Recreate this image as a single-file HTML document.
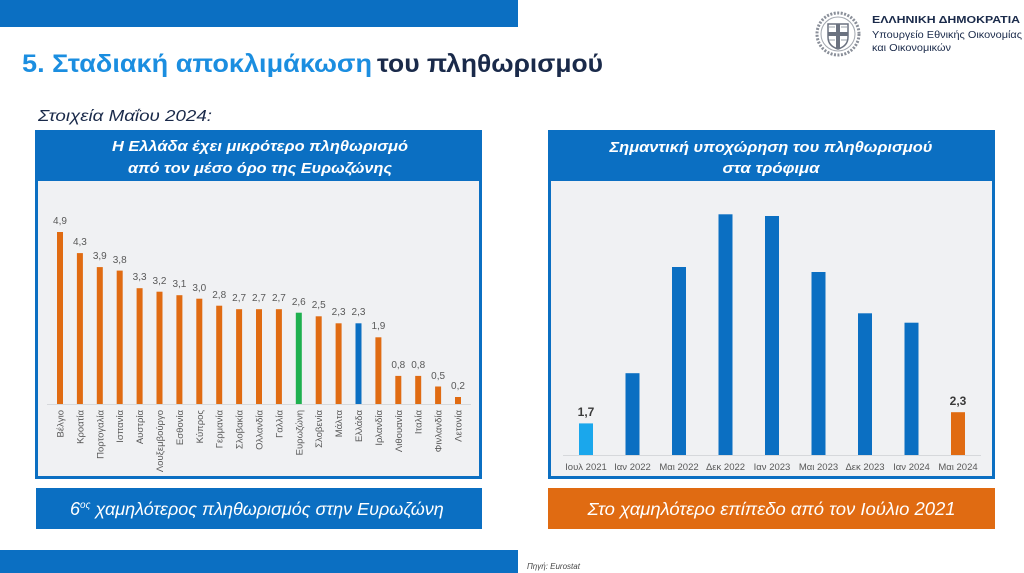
<!DOCTYPE html>
<html><head><meta charset="utf-8">
<style>
html,body{margin:0;padding:0;background:#fff;}
svg{display:block;}
text{font-family:"Liberation Sans","DejaVu Sans",sans-serif;}
</style></head>
<body>
<svg width="1024" height="573" viewBox="0 0 1024 573" xmlns="http://www.w3.org/2000/svg">
<rect x="0" y="0" width="1024" height="573" fill="#ffffff"/>
<!-- top bar -->
<rect x="0" y="0" width="518" height="27" fill="#0b6fc2"/>
<!-- bottom bar -->
<rect x="0" y="550" width="518" height="23" fill="#0b6fc2"/>
<text x="527" y="569" font-size="8" font-style="italic" fill="#444">Πηγή: Eurostat</text>

<!-- logo -->
<g>
<circle cx="838" cy="34" r="21" fill="none" stroke="#8a8f99" stroke-width="3" stroke-dasharray="2 1.5"/>
<circle cx="838" cy="34" r="17" fill="none" stroke="#a0a5ad" stroke-width="1"/>
<path d="M828 24 h20 v13 q0 9 -10 12 q-10 -3 -10 -12 z" fill="#fff" stroke="#6b7280" stroke-width="1.5"/>
<rect x="836" y="24" width="4" height="24" fill="#6b7280"/>
<rect x="828" y="32" width="20" height="4" fill="#6b7280"/>
<line x1="829" y1="27" x2="835" y2="27" stroke="#9aa0a8" stroke-width="1"/>
<line x1="841" y1="27" x2="847" y2="27" stroke="#9aa0a8" stroke-width="1"/>
<line x1="829" y1="40" x2="835" y2="40" stroke="#9aa0a8" stroke-width="1"/>
<line x1="841" y1="40" x2="847" y2="40" stroke="#9aa0a8" stroke-width="1"/>
</g>
<text x="872" y="23" font-size="10" font-weight="bold" fill="#1a2a4a" textLength="148" lengthAdjust="spacingAndGlyphs">ΕΛΛΗΝΙΚΗ ΔΗΜΟΚΡΑΤΙΑ</text>
<text x="872" y="38" font-size="10.5" fill="#1a2a4a" textLength="150" lengthAdjust="spacingAndGlyphs">Υπουργείο Εθνικής Οικονομίας</text>
<text x="872" y="51" font-size="10.5" fill="#1a2a4a" textLength="79" lengthAdjust="spacingAndGlyphs">και Οικονομικών</text>

<!-- title -->
<text x="22" y="72" font-size="25" font-weight="bold" fill="#1b8ee0" textLength="350" lengthAdjust="spacingAndGlyphs">5. Σταδιακή αποκλιμάκωση</text>
<text x="377" y="72" font-size="25" font-weight="bold" fill="#1a2a4a" textLength="226" lengthAdjust="spacingAndGlyphs">του πληθωρισμού</text>

<text x="38" y="121" font-size="16" font-style="italic" fill="#1a2a4a" textLength="174" lengthAdjust="spacingAndGlyphs">Στοιχεία Μαΐου 2024:</text>

<!-- LEFT PANEL -->
<rect x="35" y="130" width="447" height="349" fill="#0b6fc2"/>
<rect x="38" y="181" width="441" height="295" fill="#f0f1f3"/>
<text x="260" y="151" font-size="15" font-weight="bold" font-style="italic" fill="#fff" text-anchor="middle" textLength="296" lengthAdjust="spacingAndGlyphs">Η Ελλάδα έχει μικρότερο πληθωρισμό</text>
<text x="260" y="173" font-size="15" font-weight="bold" font-style="italic" fill="#fff" text-anchor="middle" textLength="264" lengthAdjust="spacingAndGlyphs">από τον μέσο όρο της Ευρωζώνης</text>
<line x1="47" y1="404.5" x2="471" y2="404.5" stroke="#d6d8db" stroke-width="1"/>

<g font-size="10" fill="#595959" text-anchor="middle">
<rect x="57" y="232" width="6" height="172" fill="#e06b12"/><text x="60" y="224">4,9</text>
<rect x="76.9" y="253.1" width="6" height="150.9" fill="#e06b12"/><text x="79.9" y="245">4,3</text>
<rect x="96.8" y="267.1" width="6" height="136.9" fill="#e06b12"/><text x="99.8" y="259">3,9</text>
<rect x="116.7" y="270.6" width="6" height="133.4" fill="#e06b12"/><text x="119.7" y="263">3,8</text>
<rect x="136.6" y="288.2" width="6" height="115.8" fill="#e06b12"/><text x="139.6" y="280">3,3</text>
<rect x="156.5" y="291.7" width="6" height="112.3" fill="#e06b12"/><text x="159.5" y="284">3,2</text>
<rect x="176.4" y="295.2" width="6" height="108.8" fill="#e06b12"/><text x="179.4" y="287">3,1</text>
<rect x="196.3" y="298.7" width="6" height="105.3" fill="#e06b12"/><text x="199.3" y="291">3,0</text>
<rect x="216.2" y="305.7" width="6" height="98.3" fill="#e06b12"/><text x="219.2" y="298">2,8</text>
<rect x="236.1" y="309.2" width="6" height="94.8" fill="#e06b12"/><text x="239.1" y="301">2,7</text>
<rect x="256" y="309.2" width="6" height="94.8" fill="#e06b12"/><text x="259" y="301">2,7</text>
<rect x="275.9" y="309.2" width="6" height="94.8" fill="#e06b12"/><text x="278.9" y="301">2,7</text>
<rect x="295.8" y="312.7" width="6" height="91.3" fill="#1fb04f"/><text x="298.8" y="305">2,6</text>
<rect x="315.7" y="316.3" width="6" height="87.7" fill="#e06b12"/><text x="318.7" y="308">2,5</text>
<rect x="335.6" y="323.3" width="6" height="80.7" fill="#e06b12"/><text x="338.6" y="315">2,3</text>
<rect x="355.5" y="323.3" width="6" height="80.7" fill="#0b6fc2"/><text x="358.5" y="315">2,3</text>
<rect x="375.4" y="337.3" width="6" height="66.7" fill="#e06b12"/><text x="378.4" y="329">1,9</text>
<rect x="395.3" y="375.9" width="6" height="28.1" fill="#e06b12"/><text x="398.3" y="368">0,8</text>
<rect x="415.2" y="375.9" width="6" height="28.1" fill="#e06b12"/><text x="418.2" y="368">0,8</text>
<rect x="435.1" y="386.5" width="6" height="17.5" fill="#e06b12"/><text x="438.1" y="379">0,5</text>
<rect x="455" y="397" width="6" height="7" fill="#e06b12"/><text x="458" y="389">0,2</text>
</g>
<g font-size="9.5" fill="#595959" text-anchor="end">
<text transform="translate(63.5,410) rotate(-90)">Βέλγιο</text>
<text transform="translate(83.4,410) rotate(-90)">Κροατία</text>
<text transform="translate(103.3,410) rotate(-90)">Πορτογαλία</text>
<text transform="translate(123.2,410) rotate(-90)">Ισπανία</text>
<text transform="translate(143.1,410) rotate(-90)">Αυστρία</text>
<text transform="translate(163,410) rotate(-90)">Λουξεμβούργο</text>
<text transform="translate(182.9,410) rotate(-90)">Εσθονία</text>
<text transform="translate(202.8,410) rotate(-90)">Κύπρος</text>
<text transform="translate(222.7,410) rotate(-90)">Γερμανία</text>
<text transform="translate(242.6,410) rotate(-90)">Σλοβακία</text>
<text transform="translate(262.5,410) rotate(-90)">Ολλανδία</text>
<text transform="translate(282.4,410) rotate(-90)">Γαλλία</text>
<text transform="translate(302.3,410) rotate(-90)">Ευρωζώνη</text>
<text transform="translate(322.2,410) rotate(-90)">Σλοβενία</text>
<text transform="translate(342.1,410) rotate(-90)">Μάλτα</text>
<text transform="translate(362,410) rotate(-90)">Ελλάδα</text>
<text transform="translate(381.9,410) rotate(-90)">Ιρλανδία</text>
<text transform="translate(401.8,410) rotate(-90)">Λιθουανία</text>
<text transform="translate(421.7,410) rotate(-90)">Ιταλία</text>
<text transform="translate(441.6,410) rotate(-90)">Φινλανδία</text>
<text transform="translate(461.5,410) rotate(-90)">Λετονία</text>
</g>

<!-- RIGHT PANEL -->
<rect x="548" y="130" width="447" height="349" fill="#0b6fc2"/>
<rect x="551" y="181" width="441" height="295" fill="#f0f1f3"/>
<text x="771" y="152" font-size="15" font-weight="bold" font-style="italic" fill="#fff" text-anchor="middle" textLength="323" lengthAdjust="spacingAndGlyphs">Σημαντική υποχώρηση του πληθωρισμού</text>
<text x="771" y="173" font-size="15" font-weight="bold" font-style="italic" fill="#fff" text-anchor="middle" textLength="97" lengthAdjust="spacingAndGlyphs">στα τρόφιμα</text>
<line x1="563" y1="455.5" x2="981" y2="455.5" stroke="#d6d8db" stroke-width="1"/>
<rect x="579" y="423.4" width="14" height="31.6" fill="#1aa7ec"/>
<rect x="625.5" y="373.2" width="14" height="81.8" fill="#0b6fc2"/>
<rect x="672" y="267" width="14" height="188" fill="#0b6fc2"/>
<rect x="718.5" y="214.3" width="14" height="240.7" fill="#0b6fc2"/>
<rect x="765" y="216" width="14" height="239" fill="#0b6fc2"/>
<rect x="811.5" y="272" width="14" height="183" fill="#0b6fc2"/>
<rect x="858" y="313.3" width="14" height="141.7" fill="#0b6fc2"/>
<rect x="904.5" y="322.7" width="14" height="132.3" fill="#0b6fc2"/>
<rect x="951" y="412.2" width="14" height="42.8" fill="#e06b12"/>
<text x="586" y="416" font-size="12" font-weight="bold" fill="#3a3a3a" text-anchor="middle">1,7</text>
<text x="958" y="405" font-size="12" font-weight="bold" fill="#3a3a3a" text-anchor="middle">2,3</text>
<g font-size="9.5" fill="#595959" text-anchor="middle">
<text x="586" y="470">Ιουλ 2021</text>
<text x="632.5" y="470">Ιαν 2022</text>
<text x="679" y="470">Μαι 2022</text>
<text x="725.5" y="470">Δεκ 2022</text>
<text x="772" y="470">Ιαν 2023</text>
<text x="818.5" y="470">Μαι 2023</text>
<text x="865" y="470">Δεκ 2023</text>
<text x="911.5" y="470">Ιαν 2024</text>
<text x="958" y="470">Μαι 2024</text>
</g>

<!-- label boxes -->
<rect x="36" y="488" width="446" height="41" fill="#0b6fc2"/>
<text x="70" y="515" font-size="18" font-style="italic" fill="#fff"><tspan>6</tspan><tspan font-size="10" dy="-7">ος</tspan><tspan dy="7" font-size="18"> χαμηλότερος πληθωρισμός στην Ευρωζώνη</tspan></text>
<rect x="548" y="488" width="447" height="41" fill="#e06b12"/>
<text x="771.5" y="515" font-size="18" font-style="italic" fill="#fff" text-anchor="middle" textLength="368" lengthAdjust="spacingAndGlyphs">Στο χαμηλότερο επίπεδο από τον Ιούλιο 2021</text>
</svg>
</body></html>
